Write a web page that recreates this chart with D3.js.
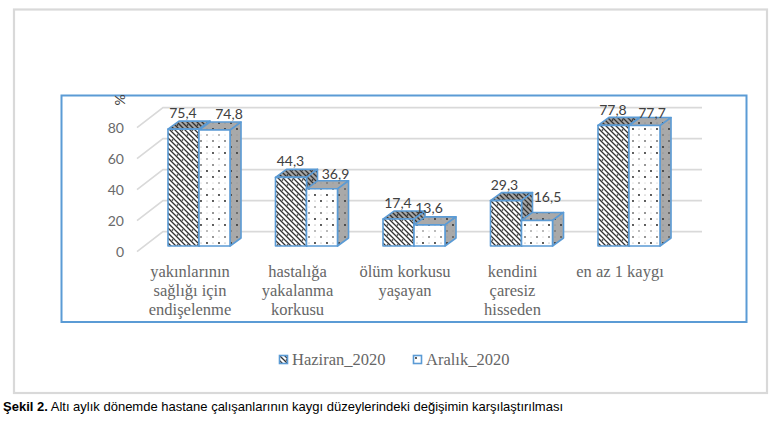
<!DOCTYPE html>
<html lang="tr">
<head>
<meta charset="utf-8">
<script src="https://cdn.jsdelivr.net/npm/d3@7"></script>
<style>
html,body{margin:0;padding:0;background:#fff;}
svg{display:block;}
</style>
</head>
<body>
<script>
const categories = ["yakınlarının sağlığı için endişelenme","hastalığa yakalanma korkusu","ölüm korkusu yaşayan","kendini çaresiz hisseden","en az 1 kaygı"];
const categoryLines = [["yakınlarının","sağlığı için","endişelenme"],["hastalığa","yakalanma","korkusu"],["ölüm korkusu","yaşayan"],["kendini","çaresiz","hisseden"],["en az 1 kaygı"]];
const seriesNames = ["Haziran_2020","Aralık_2020"];
const haziran = [75.4,44.3,17.4,29.3,77.8];
const aralik = [74.8,36.9,13.6,16.5,77.7];
const haziranLabels = ["75,4","44,3","17,4","29,3","77,8"];
const aralikLabels = ["74,8","36,9","13,6","16,5","77,7"];
const yTicks = [0,20,40,60,80];
const caption = [["Şekil 2.",true],[" Altı aylık dönemde hastane çalışanlarının kaygı düzeylerindeki değişimin karşılaştırılması",false]];

// layout
const W=775,H=427;
const depthX=11,depthY=-8;
const svg=d3.select("body").append("svg").attr("width",W).attr("height",H);
const defs=svg.append("defs");

function hatch(id,bg,line,w){
  const p=defs.append("pattern").attr("id",id).attr("patternUnits","userSpaceOnUse").attr("width",10).attr("height",10);
  p.append("rect").attr("width",10).attr("height",10).attr("fill",bg);
  d3.range(-10,15,5).forEach(k=>p.append("line").attr("x1",-5).attr("y1",-5+k).attr("x2",15).attr("y2",15+k).attr("stroke",line).attr("stroke-width",w));
  [[7.5,5],[2.5,10],[2.5,0]].forEach(c=>p.append("circle").attr("cx",c[0]).attr("cy",c[1]).attr("r",.8).attr("fill","#111"));
}
function dots(id,bg,c){
  const p=defs.append("pattern").attr("id",id).attr("patternUnits","userSpaceOnUse").attr("width",12).attr("height",24);
  p.append("rect").attr("width",12).attr("height",24).attr("fill",bg);
  [[3,3,.9,c],[9,3,.5,"#777"],[3,9,.5,"#777"],[9,9,.9,c],[3,15,.7,"#444"],[9,15,.4,"#777"],[3,21,.4,"#777"],[9,21,.8,c]]
    .forEach(d=>p.append("circle").attr("cx",d[0]).attr("cy",d[1]).attr("r",d[2]).attr("fill",d[3]));
}
hatch("hFront","#fff","#333",1.3);
hatch("hSide","#a6a6a6","#333",1.3);
dots("dFront","#fff","#111");
dots("dSide","#a9a9a9","#222");

// frames
svg.append("rect").attr("x",14).attr("y",9.5).attr("width",753).attr("height",383.5).attr("fill","#fff").attr("stroke","#d9d9d9").attr("stroke-width",2.2);
svg.append("rect").attr("x",61.5).attr("y",95.5).attr("width",685).attr("height",226.5).attr("fill","#fff").attr("stroke","#5b9bd5").attr("stroke-width",2);

// scales
const yAxisScale=d3.scaleLinear().domain([0,80]).range([251.6,127.6]);
const y=v=>yAxisScale(v)-5.6;
const yBack=v=>yAxisScale(v)-20;
const x=d3.scaleBand().domain(categories).range([145.25,682.75]).paddingInner(0.423).paddingOuter(0.2115);
const sub=d3.scaleBand().domain(seriesNames).range([0,x.bandwidth()]);

// walls
const grid=svg.append("g").attr("fill","none").attr("stroke","#d9d9d9").attr("stroke-width",1.6);
grid.selectAll("path").data(yTicks).join("path")
  .attr("d",t=>`M137,${yAxisScale(t)}L163,${yBack(t)}H702`);

// y axis
const axis=svg.append("g").attr("transform","translate(124,0)")
  .call(d3.axisLeft(yAxisScale).tickValues(yTicks).tickSize(0).tickPadding(0));
axis.select(".domain").remove();
axis.selectAll("text").attr("font-family","Lato").attr("font-size",14).attr("fill","#6a6a6a");

svg.append("text").attr("transform","translate(121,100) rotate(-90)")
  .attr("text-anchor","middle").attr("dominant-baseline","middle")
  .attr("font-family","Lato").attr("font-size",14).attr("fill","#404040").text("%");

// bars
const barStroke="#5b9bd5";
function drawSeries(values,name,front,side){
  const g=svg.append("g").attr("stroke",barStroke).attr("stroke-width",1.6).attr("stroke-linejoin","round");
  const rows=categories.map((c,i)=>({c,v:values[i],x0:x(c)+sub(name)}));
  const w=sub.bandwidth();
  g.selectAll(".top").data(rows).join("path").attr("class","top").attr("fill",`url(#${side})`)
    .attr("d",d=>`M${d.x0},${y(d.v)}l${depthX},${depthY}h${w}l${-depthX},${-depthY}z`);
  g.selectAll(".side").data(rows).join("path").attr("class","side").attr("fill",`url(#${side})`)
    .attr("d",d=>`M${d.x0+w},${y(d.v)}l${depthX},${depthY}V${y(0)+depthY}l${-depthX},${-depthY}z`);
  g.selectAll(".front").data(rows).join("rect").attr("class","front").attr("fill",`url(#${front})`)
    .attr("x",d=>d.x0).attr("y",d=>y(d.v)).attr("width",w).attr("height",d=>y(0)-y(d.v));
}
drawSeries(haziran,seriesNames[0],"hFront","hSide");
drawSeries(aralik,seriesNames[1],"dFront","dSide");

// value labels: nudges as placed by hand in the original
const nudgeH=[[15,-11],[15,-11],[15,-11],[14,-11],[15,-10]];
const nudgeA=[[30,-11],[29,-10],[15,-12],[26,-18],[23,-8]];
function drawLabels(values,labels,name,nudge){
  svg.append("g").attr("font-family","Lato").attr("font-size",14).attr("fill","#404040").attr("text-anchor","middle")
    .selectAll("text").data(categories).join("text")
    .attr("x",(c,i)=>x(c)+sub(name)+nudge[i][0])
    .attr("y",(c,i)=>y(values[i])+nudge[i][1])
    .text((c,i)=>labels[i]);
}
drawLabels(haziran,haziranLabels,seriesNames[0],nudgeH);
drawLabels(aralik,aralikLabels,seriesNames[1],nudgeA);

// category labels
const catG=svg.append("g").attr("font-family","Liberation Serif").attr("font-size",16.5).attr("fill","#666").attr("text-anchor","middle");
catG.selectAll("text").data(categories).join("text")
  .attr("y",277)
  .each(function(c,i){
    d3.select(this).selectAll("tspan").data(categoryLines[i]).join("tspan")
      .attr("x",x(c)+x.bandwidth()/2-9)
      .attr("dy",(l,j)=>j?19:0)
      .text(l=>l);
  });

// legend
const legendX=d3.scalePoint().domain(seriesNames).range([279,413]);
const legend=svg.append("g").selectAll("g").data(seriesNames).join("g")
  .attr("transform",d=>`translate(${legendX(d)},355)`);
legend.append("rect").attr("width",8).attr("height",8).attr("x",.5).attr("y",.5)
  .attr("fill",(d,i)=>i?"url(#dFront)":"url(#hFront)").attr("stroke",barStroke).attr("stroke-width",1.6);
legend.append("text").attr("x",13).attr("y",10).attr("font-family","Liberation Serif").attr("font-size",16.5).attr("fill","#666").text(d=>d);

// caption
svg.append("text").attr("x",3).attr("y",411).attr("font-family","Liberation Sans").attr("font-size",13).attr("fill","#000")
  .selectAll("tspan").data(caption).join("tspan")
  .attr("font-weight",d=>d[1]?"bold":"normal").attr("xml:space","preserve").text(d=>d[0]);
</script>
</body>
</html>
